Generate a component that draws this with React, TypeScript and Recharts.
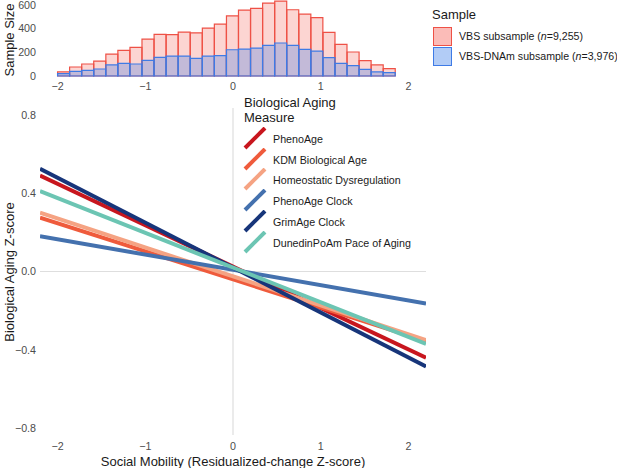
import React from 'react'
import { BarChart, Bar, LineChart, Line, XAxis, YAxis, ReferenceLine } from 'recharts'

// histogram bins (centre of each bin, residualized-change z-score)
const binCenters = [
  -1.931, -1.794, -1.656, -1.519, -1.381, -1.244, -1.106, -0.969, -0.831, -0.694,
  -0.556, -0.419, -0.281, -0.144, -0.006, 0.131, 0.269, 0.406, 0.544, 0.681,
  0.819, 0.956, 1.094, 1.231, 1.369, 1.506, 1.644, 1.781,
]
const vbsCounts = [
  34, 76, 101, 126, 185, 216, 241, 311, 350, 348, 370, 364, 404, 437, 507, 555,
  569, 614, 631, 558, 521, 491, 367, 266, 202, 129, 93, 62,
]
const dnamCounts = [
  20, 39, 48, 59, 93, 107, 101, 132, 157, 168, 168, 149, 168, 171, 221, 227,
  235, 258, 278, 258, 224, 210, 154, 107, 87, 56, 34, 28,
]
const histTicks = [0, 200, 400, 600]
const xTicks = [-2, -1, 0, 1, 2]
const zTicks = [-0.8, -0.4, 0, 0.4, 0.8]

// fitted lines, value at each end of the mobility range
const mobilityEnds = [-2.2, 2.2]
const phenoAge = [0.49, -0.44]
const kdmAge = [0.275, -0.355]
const homeostatic = [0.3, -0.35]
const phenoAgeClock = [0.18, -0.163]
const grimAgeClock = [0.525, -0.485]
const dunedinPoAm = [0.41, -0.37]

const measures = [
  { key: 'phenoAge', name: 'PhenoAge', color: '#C8161E', values: phenoAge },
  { key: 'kdmAge', name: 'KDM Biological Age', color: '#EF5B3C', values: kdmAge },
  { key: 'homeostatic', name: 'Homeostatic Dysregulation', color: '#F5A383', values: homeostatic },
  { key: 'phenoAgeClock', name: 'PhenoAge Clock', color: '#4471AE', values: phenoAgeClock },
  { key: 'grimAgeClock', name: 'GrimAge Clock', color: '#17357A', values: grimAgeClock },
  { key: 'dunedinPoAm', name: 'DunedinPoAm Pace of Aging', color: '#6CC5B3', values: dunedinPoAm },
]

const histData = binCenters.map((x, i) => ({ x, vbs: vbsCounts[i], dnam: dnamCounts[i] }))
const lineData = mobilityEnds.map((x, i) => {
  const row: Record<string, number> = { x }
  measures.forEach((m) => { row[m.key] = m.values[i] })
  return row
})

const font = '"Liberation Sans", Arial, Helvetica, sans-serif'
const tickStyle = { fontSize: 10.7, fill: '#4D4D4D', fontFamily: font }
const fmt = (v: number, d: number) => (v < 0 ? '\u2212' : '') + Math.abs(v).toFixed(d)

const RED = '#EE5146'
const BLUE = '#3E7BE6'

const RotatedTitle = ({ text, cx, cy }: { text: string; cx: number; cy: number }) => (
  <div
    style={{
      position: 'absolute', left: cx - 100, top: cy - 8, width: 200, height: 16,
      lineHeight: '16px', textAlign: 'center', fontSize: 13, color: '#1A1A1A',
      transform: 'rotate(-90deg)', whiteSpace: 'nowrap',
    }}
  >
    {text}
  </div>
)

export default function App() {
  return (
    <div style={{ position: 'absolute', left: 0, top: 0, width: 617, height: 468, background: '#fff', fontFamily: font, overflow: 'hidden' }}>
      {/* sample size histogram */}
      <div style={{ position: 'absolute', left: 0, top: 0 }}>
        <BarChart width={440} height={95} data={histData} margin={{ top: 0, right: 14, bottom: 0, left: 0 }} barCategoryGap={0} barGap="-100%">
          <XAxis type="number" dataKey="x" domain={[-2.2, 2.2]} ticks={xTicks} allowDataOverflow axisLine={false} tickLine={false} tickSize={0} tickMargin={6} height={19} interval={0} tick={tickStyle} tickFormatter={(v) => fmt(v, 0)} />
          <YAxis type="number" domain={[0, 640]} ticks={histTicks} width={40} axisLine={false} tickLine={false} tickSize={0} tickMargin={4} interval={0} tick={tickStyle} />
          <Bar dataKey="vbs" fill="#F4574D" fillOpacity={0.25} stroke={RED} strokeWidth={1.2} isAnimationActive={false} />
          <Bar dataKey="dnam" fill="#3F7FE8" fillOpacity={0.3} stroke={BLUE} strokeWidth={1.2} isAnimationActive={false} />
        </BarChart>
      </div>
      <RotatedTitle text="Sample Size" cx={10} cy={40} />

      {/* sample legend */}
      <div style={{ position: 'absolute', left: 432, top: 6, fontSize: 13, color: '#1A1A1A', lineHeight: '17px' }}>Sample</div>
      {[
        { fill: 'rgba(244,87,77,0.4)', stroke: RED, label: 'VBS subsample', n: '9,255', top: 27 },
        { fill: 'rgba(63,127,232,0.4)', stroke: BLUE, label: 'VBS-DNAm subsample', n: '3,976', top: 47 },
      ].map((s) => (
        <React.Fragment key={s.label}>
          <div style={{ position: 'absolute', left: 433, top: s.top, width: 17, height: 17, background: s.fill, border: `1px solid ${s.stroke}` }} />
          <div style={{ position: 'absolute', left: 459, top: s.top + 2, fontSize: 10.6, lineHeight: '14px', color: '#1A1A1A', whiteSpace: 'nowrap' }}>
            {s.label} (<i>n</i>={s.n})
          </div>
        </React.Fragment>
      ))}

      {/* biological aging lines */}
      <div style={{ position: 'absolute', left: 0, top: 100 }}>
        <LineChart width={440} height={360} data={lineData} margin={{ top: 8, right: 14, bottom: 0, left: 0 }}>
          <XAxis type="number" dataKey="x" domain={[-2.2, 2.2]} ticks={xTicks} allowDataOverflow axisLine={false} tickLine={false} tickSize={0} tickMargin={7} height={25} interval={0} tick={tickStyle} tickFormatter={(v) => fmt(v, 0)} />
          <YAxis type="number" domain={[-0.835, 0.835]} ticks={zTicks} allowDataOverflow width={40} axisLine={false} tickLine={false} tickSize={0} tickMargin={4} interval={0} tick={tickStyle} tickFormatter={(v) => fmt(v, 1)} />
          <ReferenceLine x={0} stroke="#DEDEDE" strokeWidth={1.2} />
          <ReferenceLine y={0} stroke="#DEDEDE" strokeWidth={1.2} />
          {measures.map((m) => (
            <Line key={m.key} type="linear" dataKey={m.key} name={m.name} stroke={m.color} strokeWidth={4} dot={false} activeDot={false} isAnimationActive={false} />
          ))}
        </LineChart>
      </div>
      <RotatedTitle text="Biological Aging Z-score" cx={10} cy={272} />
      <div style={{ position: 'absolute', left: 33, top: 454, width: 400, textAlign: 'center', fontSize: 13, lineHeight: '16px', color: '#1A1A1A', whiteSpace: 'nowrap' }}>
        Social Mobility (Residualized-change Z-score)
      </div>

      {/* measure legend */}
      <div style={{ position: 'absolute', left: 244, top: 95, fontSize: 13, lineHeight: '15px', color: '#1A1A1A' }}>
        Biological Aging<br />Measure
      </div>
      {measures.map((m, i) => (
        <React.Fragment key={m.key}>
          <svg style={{ position: 'absolute', left: 243, top: 127 + i * 20.7 }} width={24} height={24}>
            <line x1={2} y1={21} x2={22} y2={1} stroke={m.color} strokeWidth={4} />
          </svg>
          <div style={{ position: 'absolute', left: 273, top: 132 + i * 20.7, fontSize: 10.7, lineHeight: '14px', color: '#1A1A1A', whiteSpace: 'nowrap' }}>
            {m.name}
          </div>
        </React.Fragment>
      ))}
    </div>
  )
}
